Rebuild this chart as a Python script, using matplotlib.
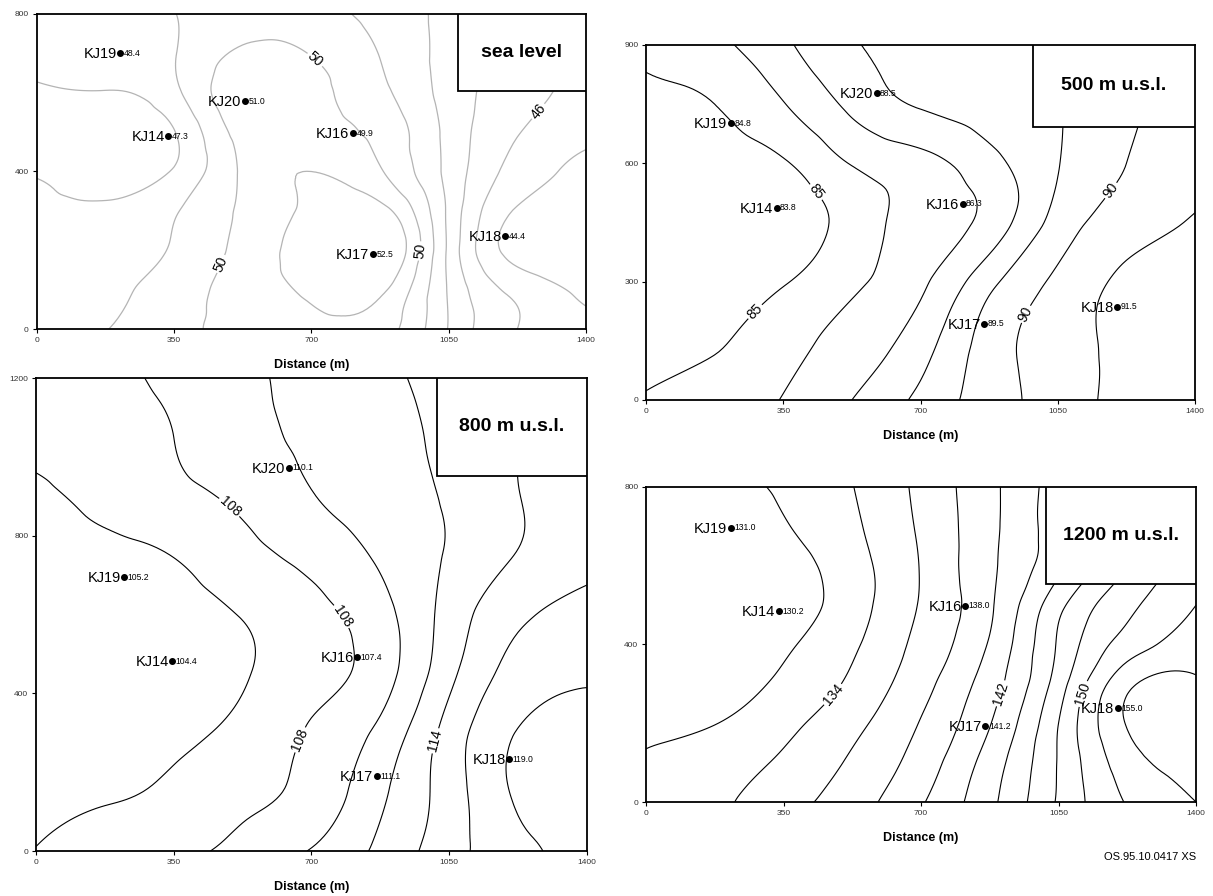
import numpy as np
import matplotlib
matplotlib.use("Agg")
import matplotlib.pyplot as plt
import matplotlib.tri as mtri
from matplotlib.patches import Rectangle

plt.rcParams['font.family'] = ['Liberation Sans', 'DejaVu Sans']

# ---------------- data ----------------
# grid nodes along the section (m) where the head values were read
grid_x = [0, 175, 350, 525, 700, 875, 1050, 1225, 1400]

# sea level
sea_y = [0, 100, 200, 300, 400, 500, 600, 700, 800]
sea_z = [
    [48.5, 48.98, 49.6, 50.3, 50.55, 50.5, 47.95, 46.0, 45.4],
    [48.4, 48.75, 49.5, 50.35, 51.3, 51.25, 47.9, 45.7, 44.7],
    [48.5, 48.6, 49.1, 50.3, 51.8, 52.3, 47.8, 44.6, 44.3],
    [48.1, 48.15, 48.9, 50.15, 51.3, 51.4, 47.8, 44.9, 44.5],
    [47.95, 47.6, 48.1, 50.15, 51.0, 50.1, 47.7, 45.6, 44.7],
    [47.6, 47.4, 47.95, 50.4, 50.45, 49.7, 47.7, 46.05, 45.3],
    [47.85, 47.95, 48.75, 50.8, 50.4, 49.25, 47.6, 46.4, 45.6],
    [48.3, 48.5, 48.95, 50.2, 49.95, 48.97, 47.6, 46.6, 45.9],
    [48.5, 48.7, 48.98, 49.45, 49.3, 48.75, 47.6, 46.5, 45.7],
]
sea_wells = ['KJ19', 'KJ20', 'KJ14', 'KJ16', 'KJ17', 'KJ18']
sea_wx = [213, 531, 335, 806, 857, 1194]
sea_wy = [700, 579, 490, 497, 190, 236]
sea_wv = ['48.4', '51.0', '47.3', '49.9', '52.5', '44.4']

# 500 m u.s.l.
m500_y = [0, 150, 300, 450, 600, 750, 900]
m500_z = [
    [85.1, 85.55, 86.05, 87.0, 88.25, 89.5, 90.5, 91.3, 91.8],
    [84.6, 84.9, 85.56, 86.42, 87.52, 89.45, 90.53, 91.3, 91.7],
    [84.3, 84.5, 84.93, 85.8, 86.8, 88.7, 90.2, 91.25, 91.6],
    [84.0, 83.9, 84.3, 85.42, 86.39, 87.36, 89.4, 90.48, 91.1],
    [84.3, 84.5, 84.9, 86.05, 86.66, 87.66, 88.96, 90.0, 90.6],
    [84.8, 85.0, 85.95, 87.24, 88.1, 88.5, 88.95, 89.8, 90.4],
    [85.15, 85.75, 86.8, 87.9, 88.3, 88.6, 88.95, 89.7, 90.3],
]
m500_wells = ['KJ19', 'KJ20', 'KJ14', 'KJ16', 'KJ17', 'KJ18']
m500_wx = [216, 588, 333, 807, 863, 1201]
m500_wy = [702, 778, 487, 497, 193, 236]
m500_wv = ['84.8', '88.5', '83.8', '86.3', '89.5', '91.5']

# 800 m u.s.l.
m800_y = [0, 150, 300, 450, 600, 750, 900, 1050, 1200]
m800_z = [
    [106.05, 106.75, 107.5, 108.5, 110.13, 112.44, 115.24, 117.4, 118.9],
    [105.5, 105.8, 106.35, 107.5, 108.6, 111.6, 115.0, 118.3, 118.9],
    [105.0, 105.0, 105.5, 106.6, 108.2, 110.5, 114.8, 118.1, 118.9],
    [104.6, 104.5, 104.6, 105.8, 107.2, 109.1, 113.45, 116.8, 117.7],
    [104.8, 104.7, 105.1, 106.1, 107.35, 109.3, 112.8, 115.6, 116.7],
    [105.4, 105.5, 106.05, 107.35, 108.6, 110.3, 112.2, 114.1, 115.3],
    [105.7, 106.5, 107.5, 108.4, 109.9, 111.05, 112.25, 113.95, 115.0],
    [106.5, 107.0, 108.0, 109.3, 110.4, 111.3, 112.5, 113.95, 114.9],
    [106.9, 107.4, 108.5, 109.6, 110.6, 111.6, 112.7, 113.9, 114.9],
]
m800_wells = ['KJ20', 'KJ19', 'KJ14', 'KJ16', 'KJ17', 'KJ18']
m800_wx = [643, 224, 346, 816, 866, 1202]
m800_wy = [972, 695, 482, 492, 190, 233]
m800_wv = ['110.1', '105.2', '104.4', '107.4', '111.1', '119.0']

# 1200 m u.s.l.
m1200_y = [0, 100, 200, 300, 400, 500, 600, 700, 800]
m1200_z = [
    [132.6, 133.6, 135.2, 137.1, 139.8, 143.5, 148.25, 152.15, 154.0],
    [132.2, 133.1, 134.3, 136.3, 138.9, 142.9, 148.15, 153.1, 154.6],
    [131.6, 131.95, 133.4, 135.42, 138.12, 141.9, 148.0, 154.13, 155.0],
    [131.1, 131.2, 132.35, 134.4, 137.3, 141.05, 147.0, 153.5, 154.3],
    [130.7, 130.6, 131.7, 133.67, 136.6, 140.2, 146.25, 150.9, 152.9],
    [130.5, 130.3, 131.0, 133.1, 136.16, 139.7, 145.4, 149.5, 152.0],
    [130.9, 130.8, 131.2, 133.2, 136.1, 139.6, 143.5, 148.0, 151.0],
    [131.0, 130.9, 131.85, 133.65, 136.3, 139.5, 143.2, 147.5, 150.5],
    [131.3, 131.4, 132.3, 133.95, 136.5, 139.5, 143.1, 147.0, 150.0],
]
m1200_wells = ['KJ19', 'KJ14', 'KJ16', 'KJ17', 'KJ18']
m1200_wx = [216, 338, 812, 864, 1201]
m1200_wy = [696, 485, 498, 192, 238]
m1200_wv = ['131.0', '130.2', '138.0', '141.2', '155.0']


def grid_triangulation(xs, ys):
    X, Y = np.meshgrid(xs, ys)
    nx, ny = len(xs), len(ys)
    tris = []
    for j in range(ny - 1):
        for i in range(nx - 1):
            a = j * nx + i
            b, c, d = a + 1, a + nx, a + nx + 1
            tris.append([a, b, d])
            tris.append([a, d, c])
    return mtri.Triangulation(X.ravel(), Y.ravel(), np.array(tris))


def draw_map(rect, ys, zs, levels, lab_levels, lab_pos, ymax, yticks,
             wells, wx, wy, wv, title, box, line_color='k', lw=0.8):
    ax = fig.add_axes(rect)
    tri = grid_triangulation(grid_x, ys)
    refiner = mtri.UniformTriRefiner(tri)
    tri_f, z_f = refiner.refine_field(np.asarray(zs, float).ravel(), subdiv=4)
    plain = [lv for lv in levels if lv not in lab_levels]
    ax.tricontour(tri_f, z_f, levels=plain, colors=line_color, linewidths=lw)
    # labelled isolines get their own set so the labels can break them
    cs = ax.tricontour(tri_f, z_f, levels=lab_levels, colors=line_color, linewidths=lw)
    ax.clabel(cs, manual=lab_pos, inline=True, inline_spacing=2,
              fontsize=10, fmt='%d', colors='k')

    ax.plot(wx, wy, 'o', color='k', ms=4, zorder=4)
    for name, x, y, v in zip(wells, wx, wy, wv):
        ax.annotate(name, (x, y), xytext=(-2.5, -0.5), textcoords='offset points',
                    ha='right', va='center', fontsize=10.5, zorder=4)
        ax.annotate(v, (x, y), xytext=(2.5, 0), textcoords='offset points',
                    ha='left', va='center', fontsize=6.2, zorder=4)

    # title box in the upper right corner
    ax.add_patch(Rectangle((box[0], box[1]), 1 - box[0], 1 - box[1],
                           transform=ax.transAxes, facecolor='white',
                           edgecolor='k', lw=1.3, zorder=6))
    ax.text((1 + box[0]) / 2, (1 + box[1]) / 2, title, transform=ax.transAxes,
            ha='center', va='center', fontsize=14, fontweight='bold', zorder=7)

    ax.set_xlim(0, 1400)
    ax.set_ylim(0, ymax)
    ax.set_xticks([0, 350, 700, 1050, 1400])
    ax.set_yticks(yticks)
    ax.tick_params(direction='out', length=3, width=0.8, labelsize=6,
                   labelcolor='#333333', pad=2.5)
    for s in ax.spines.values():
        s.set_linewidth(1.3)
    ax.set_xlabel('Distance (m)', fontsize=9, fontweight='bold', labelpad=11)
    return ax


fig = plt.figure(figsize=(12.13, 8.96), dpi=100)

draw_map([0.0301, 0.6328, 0.4530, 0.3516], sea_y, sea_z,
         [45, 46, 47, 48, 49, 50, 51], [46, 50],
         [(463, 168), (697, 670), (960, 200), (1265, 564)],
         800, [0, 400, 800], sea_wells, sea_wx, sea_wy, sea_wv,
         'sea level', (0.767, 0.756), line_color='#b4b4b4', lw=0.9)

draw_map([0.5326, 0.5536, 0.4526, 0.3962], m500_y, m500_z,
         [85, 86, 87, 88, 89, 90, 91], [85, 90],
         [(300, 203), (439, 532), (1184, 532), (981, 211)],
         900, [0, 300, 600, 900], m500_wells, m500_wx, m500_wy, m500_wv,
         '500 m u.s.l.', (0.704, 0.769))

draw_map([0.0297, 0.0502, 0.4542, 0.5279], m800_y, m800_z,
         [106, 108, 110, 112, 114, 116, 118], [108, 114],
         [(494, 875), (783, 599), (676, 280), (1013, 280)],
         1200, [0, 400, 800, 1200], m800_wells, m800_wx, m800_wy, m800_wv,
         '800 m u.s.l.', (0.728, 0.793))

draw_map([0.5326, 0.1049, 0.4534, 0.3516], m1200_y, m1200_z,
         list(range(132, 156, 2)), [134, 142, 150],
         [(484, 266), (896, 278), (1100, 278)],
         800, [0, 400, 800], m1200_wells, m1200_wx, m1200_wy, m1200_wv,
         '1200 m u.s.l.', (0.727, 0.692))

fig.text(0.948, 0.0435, 'OS.95.10.0417 XS', ha='center', va='center', fontsize=8)

fig.savefig('out.png', dpi=100)
